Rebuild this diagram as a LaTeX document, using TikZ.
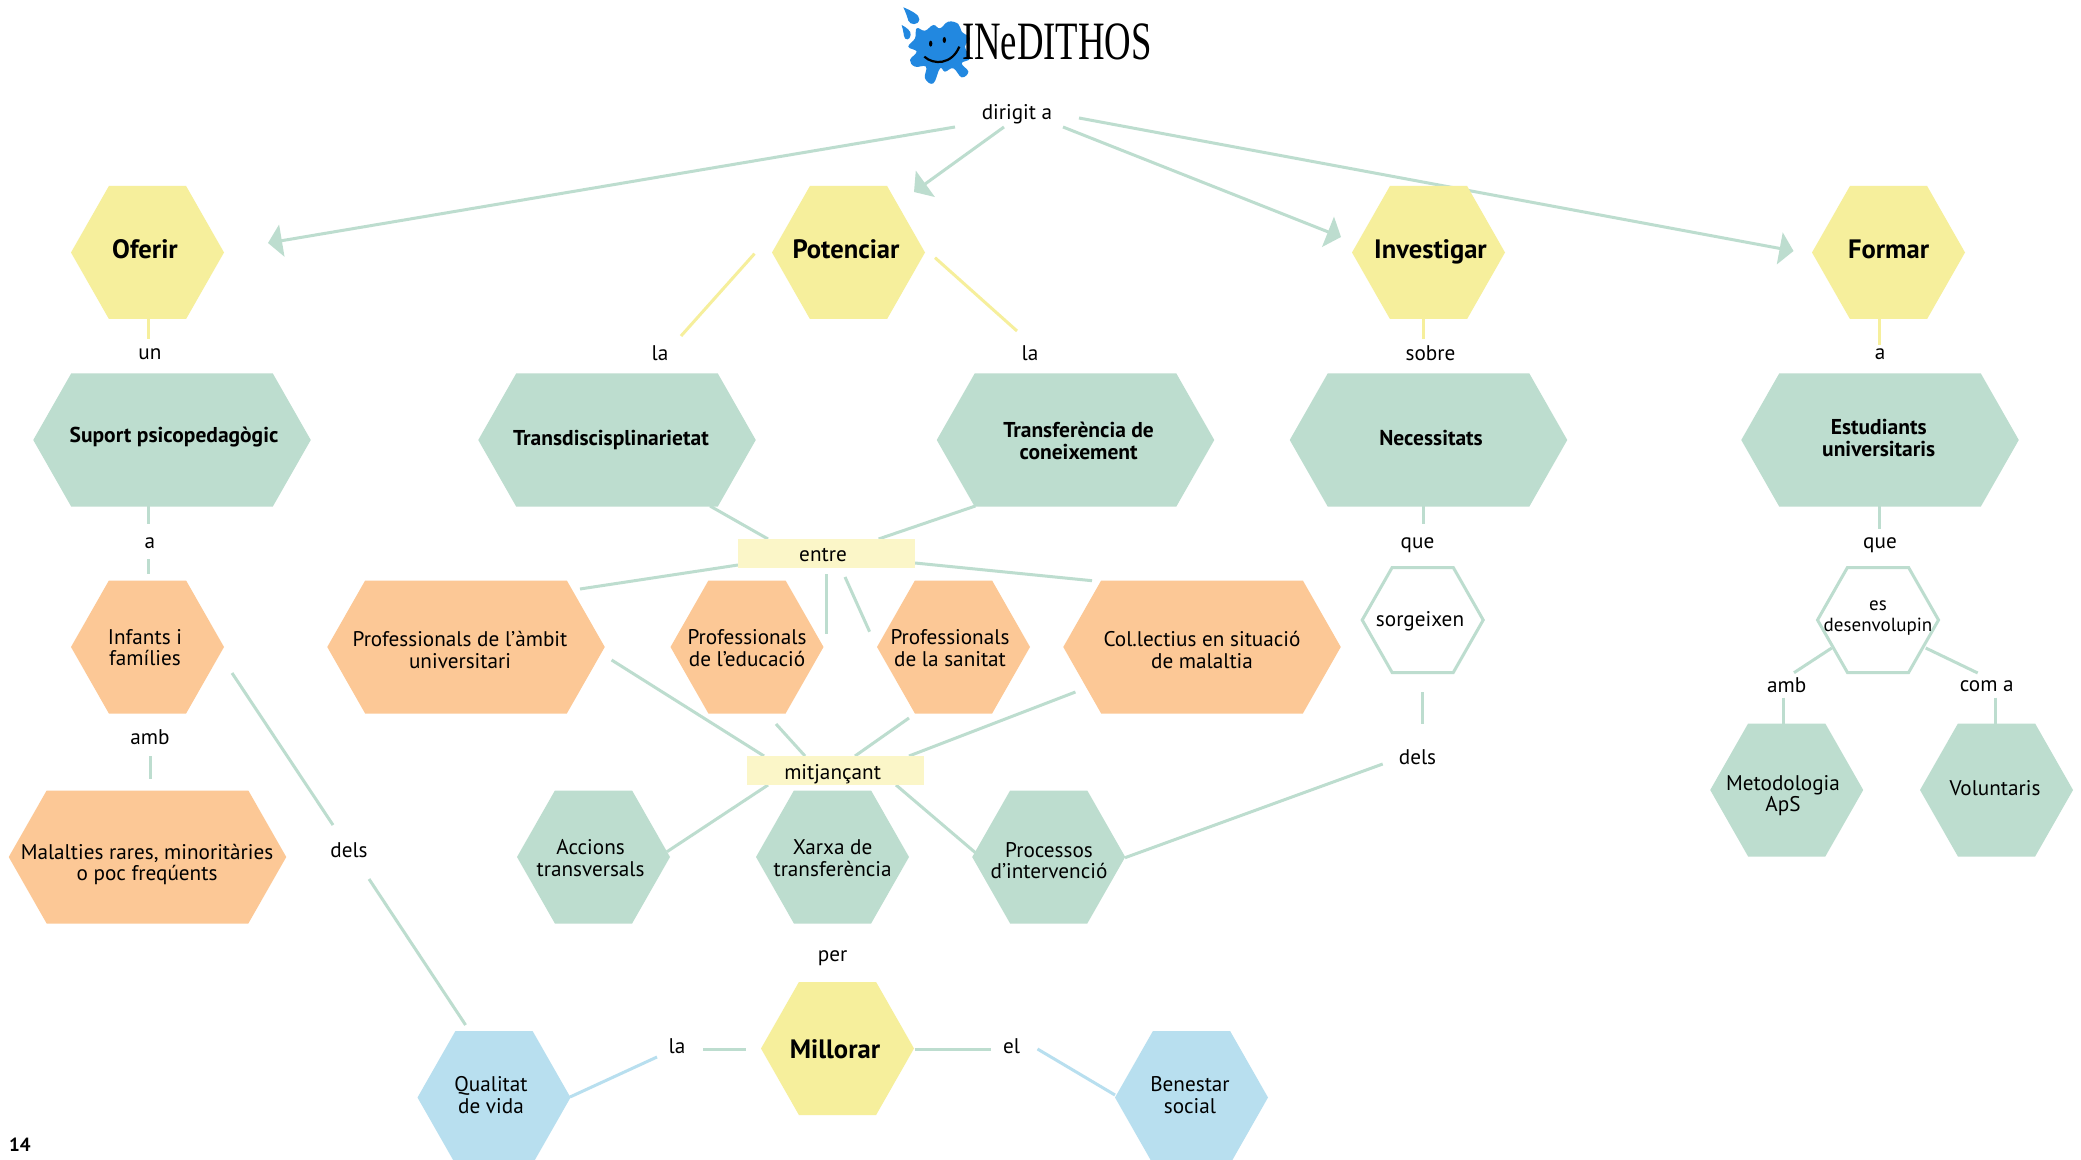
\documentclass[tikz,border=0pt]{standalone}
\usepackage{fontspec}
\setmainfont{PT Sans}
\newfontfamily\logofont{Liberation Serif}
\usetikzlibrary{arrows.meta}
\definecolor{cgreen}{HTML}{BDDDCF}
\definecolor{cyellow}{HTML}{F6EF9C}
\definecolor{corange}{HTML}{FCC896}
\definecolor{cblue}{HTML}{B8DFEF}
\definecolor{cpale}{HTML}{FBF6C8}
\definecolor{clogo}{HTML}{2288E0}
\pgfdeclarelayer{bg}
\pgfsetlayers{bg,main}
\makeatletter
\pgfdeclareshape{hexa}{
  \inheritsavedanchors[from=rectangle]
  \inheritanchorborder[from=rectangle]
  \inheritanchor[from=rectangle]{center}
  \inheritanchor[from=rectangle]{north}
  \inheritanchor[from=rectangle]{south}
  \inheritanchor[from=rectangle]{east}
  \inheritanchor[from=rectangle]{west}
  \backgroundpath{
    \southwest \edef\hexl{\the\pgf@x}\edef\hexb{\the\pgf@y}
    \northeast \edef\hexr{\the\pgf@x}\edef\hext{\the\pgf@y}
    \pgfmathsetmacro\hexin{0.285*(\hext-\hexb)}
    \pgfmathsetmacro\hexm{0.5*(\hext+\hexb)}
    \pgfpathmoveto{\pgfpoint{\hexl}{\hexm pt}}
    \pgfpathlineto{\pgfpoint{\hexl+\hexin pt}{\hext}}
    \pgfpathlineto{\pgfpoint{\hexr-\hexin pt}{\hext}}
    \pgfpathlineto{\pgfpoint{\hexr}{\hexm pt}}
    \pgfpathlineto{\pgfpoint{\hexr-\hexin pt}{\hexb}}
    \pgfpathlineto{\pgfpoint{\hexl+\hexin pt}{\hexb}}
    \pgfpathclose
  }
}
\makeatother
\tikzset{
  x=0.5pt,y=-0.5pt,
  hex/.style={shape=hexa,inner sep=0pt,outer sep=0pt,minimum height=66.5pt},
  narrow/.style={hex,minimum width=76.5pt},
  wide/.style={hex,minimum width=138.75pt},
  open/.style={hex,minimum width=60.5pt,minimum height=52.5pt,draw=cgreen,line width=1.5pt,fill=white},
  gfill/.style={fill=cgreen},
  yfill/.style={fill=cyellow},
  ofill/.style={fill=corange},
  bfill/.style={fill=cblue},
  tx/.style={inner sep=0pt,align=center,font=\fontsize{10.6}{10.75}\selectfont},
  sub/.style={tx,font=\fontsize{10.75}{10.75}\selectfont\bfseries},
  head/.style={tx,font=\fontsize{13.3}{15}\selectfont\bfseries},
  tiny/.style={tx,font=\fontsize{9.5}{10.5}\selectfont},
  band/.style={fill=cpale,inner sep=0pt,outer sep=0pt,minimum height=14.5pt,minimum width=88.5pt},
  gline/.style={draw=cgreen,line width=1.5pt},
  yline/.style={draw=cyellow,line width=1.5pt},
  bline/.style={draw=cblue,line width=1.5pt},
  garrow/.style={gline,-{Triangle[length=7pt,width=16pt]}},
}
\begin{document}
\begin{tikzpicture}
\useasboundingbox (0,0) rectangle (2081,1160);
% hexagons
\node[narrow,yfill] (oferir) at (147.5,252.5) {};
\node[narrow,yfill] (potenciar) at (848.5,252.5) {};
\node[narrow,yfill] (investigar) at (1428.5,252.5) {};
\node[narrow,yfill] (formar) at (1888.5,252.5) {};
\node[wide,gfill] (suport) at (172,440) {};
\node[wide,gfill] (transd) at (617,440) {};
\node[wide,gfill] (transf) at (1075.5,440) {};
\node[wide,gfill] (necess) at (1428.5,440) {};
\node[wide,gfill] (estud) at (1880,440) {};
\node[narrow,ofill] (infants) at (147.5,647) {};
\node[wide,ofill] (profuni) at (466,647) {};
\node[narrow,ofill] (profedu) at (747,647) {};
\node[narrow,ofill] (profsan) at (953.5,647) {};
\node[wide,ofill] (collect) at (1202,647) {};
\node[open] (sorgeix) at (1422.7,620) {};
\node[open] (desenv) at (1878,620) {};
\node[narrow,gfill] (metod) at (1786.7,790) {};
\node[narrow,gfill] (volunt) at (1996.5,790) {};
\node[wide,ofill] (malalt) at (147.5,857) {};
\node[narrow,gfill] (accions) at (593.5,857) {};
\node[narrow,gfill] (xarxa) at (832.5,857) {};
\node[narrow,gfill] (process) at (1048.7,857) {};
\node[narrow,yfill] (millorar) at (837.5,1048.5) {};
\node[narrow,bfill] (qualitat) at (494,1097.5) {};
\node[narrow,bfill] (benestar) at (1191.5,1097.5) {};
\node[band] (entre) at (826.5,553.5) {};
\node[band] (mitjan) at (835.5,770.5) {};
% hexagon texts
\node[head] (toferir) at (145,249) {Oferir};
\node[head] (tpotenciar) at (846,249) {Potenciar};
\node[head] (tinvestigar) at (1430.5,252) {Investigar};
\node[head] (tformar) at (1888.6,249) {Formar};
\node[head] (tmillorar) at (835,1049) {Millorar};
\node[sub] (tsuport) at (174,437.5) {Suport psicopedagògic};
\node[sub] (ttransd) at (611,440.5) {Transdiscisplinarietat};
\node[sub] (ttransf) at (1078.6,441) {Transferència de\\coneixement};
\node[sub] (tnecess) at (1431,438) {Necessitats};
\node[sub] (testud) at (1878.7,438) {Estudiants\\universitaris};
\node[tx] (tinfants) at (145,647.5) {Infants i\\famílies};
\node[tx] (tprofuni) at (460,650) {Professionals de l’àmbit\\universitari};
\node[tx] (tprofedu) at (747,648) {Professionals\\de l’educació};
\node[tx] (tprofsan) at (950,648) {Professionals\\de la sanitat};
\node[tx] (tcollect) at (1202,650) {Col.lectius en situació\\de malaltia};
\node[tx] (tmalalt) at (147,864.5) {Malalties rares, minoritàries\\o poc freqúents};
\node[tx] (taccions) at (590.6,858) {Accions\\transversals};
\node[tx] (txarxa) at (832.6,858) {Xarxa de\\transferència};
\node[tx] (tprocess) at (1049,860.5) {Processos\\d’intervenció};
\node[tx] (tqualitat) at (491,1095) {Qualitat\\de vida};
\node[tx] (tbenestar) at (1190,1095) {Benestar\\social};
\node[tx] (tsorgeix) at (1420,621) {sorgeixen};
\node[tiny] (tdesenv) at (1878,618) {es\\desenvolupin};
\node[tx] (tmetod) at (1783,795.5) {Metodologia\\ApS};
\node[tx] (tvolunt) at (1995,788.5) {Voluntaris};
\node[tx] (tentre) at (823,555) {entre};
\node[tx] (tmitjan) at (832.6,774.5) {mitjançant};
% labels
\node[tx] (dirigit) at (1017,114.5) {dirigit a};
\node[tx] (lun) at (150,354) {un};
\node[tx] (lla1) at (660,353.5) {la};
\node[tx] (lla2) at (1030,353.5) {la};
\node[tx] (lsobre) at (1430.5,353.5) {sobre};
\node[tx] (la1) at (1880,354) {a};
\node[tx] (la2) at (150,543.5) {a};
\node[tx] (lque1) at (1417.5,545) {que};
\node[tx] (lque2) at (1880,545) {que};
\node[tx] (lamb1) at (150,737.5) {amb};
\node[tx] (ldels1) at (349,850) {dels};
\node[tx] (ldels2) at (1417.5,757.5) {dels};
\node[tx] (lamb2) at (1786.7,685.2) {amb};
\node[tx] (lcoma) at (1986.7,686.2) {com a};
\node[tx] (lper) at (832.6,958.2) {per};
\node[tx] (lla3) at (677,1046) {la};
\node[tx] (lel) at (1011.6,1046) {el};
\node[tx,font=\fontsize{9.5}{11}\selectfont\bfseries] (pageno) at (20,1145) {14};
% connector end points
\foreach \n/\px/\py in {
 dirA/955/127, dirB/1004/127, dirC/1063/127, dirD/1079/118,
 tipO/268/243, tipP/914/192, tipI/1341/237, tipF/1793.5/251,
 ofS/148/319, unN/148/339, poL/754.5/253.7, laA/681/336, poR/935/257.7, laB/1017/331,
 inS/1423/319, soN/1423/339, foS/1879/319, aN/1879/345,
 suS/148/506, aaN/148/524, aaS/148/559, infN/148/574, ambS/150/756, malN/150/779,
 infE/232/673, deA/333/825, deB/369/879, quN/465.6/1025,
 quE/570/1097, laC/657/1057, laD/703/1049, miW/746.4/1049, miE/914.5/1049, elW/991/1049,
 elE/1037.5/1049, beW/1115/1095,
 trS/710/506, enA/768/539, tfS/975.4/506, enB/878.6/539,
 enC/738/565, uniN/580/589, enD/826/574, eduE/826/634, enE/845/577, sanW/869.6/631.7,
 enF/915/563, colN/1092/580.7,
 uniE/611.6/660, miA/764/756, eduS/776/724, miB/805/756, sanS/909/718, miC/855/756,
 colW/1075.4/692, miD/909/756,
 miF/768/785, acE/667/851.7, miG/896/785, prW/975.4/852.7,
 prE/1125/857.7, deC/1382.7/764,
 neS/1423/506, quA/1423/524, sgS/1422.7/692, deD/1422.7/723.7,
 esS/1879/506, quB/1879/529,
 dsL/1831.7/648, amA/1794/672.7, dsR/1925.7/648, coA/1977.7/673,
 amB/1783/697.7, meN/1783/724, coB/1995/697.7, voN/1995/724}
 {\coordinate (\n) at (\px,\py);}
% connectors, under the hexagons
\begin{pgfonlayer}{bg}
\fill[white] (0,0) rectangle (2081,1160);
\draw[garrow] (dirA) -- (tipO);
\draw[garrow] (dirB) -- (tipP);
\draw[garrow] (dirC) -- (tipI);
\draw[garrow] (dirD) -- (tipF);
\draw[yline] (ofS) -- (unN);
\draw[yline] (poL) -- (laA);
\draw[yline] (poR) -- (laB);
\draw[yline] (inS) -- (soN);
\draw[yline] (foS) -- (aN);
\draw[gline] (suS) -- (aaN);
\draw[gline] (aaS) -- (infN);
\draw[gline] (ambS) -- (malN);
\draw[gline] (infE) -- (deA);
\draw[gline] (deB) -- (quN);
\draw[bline] (quE) -- (laC);
\draw[gline] (laD) -- (miW);
\draw[gline] (miE) -- (elW);
\draw[bline] (elE) -- (beW);
\draw[gline] (trS) -- (enA);
\draw[gline] (tfS) -- (enB);
\draw[gline] (enC) -- (uniN);
\draw[gline] (enD) -- (eduE);
\draw[gline] (enE) -- (sanW);
\draw[gline] (enF) -- (colN);
\draw[gline] (uniE) -- (miA);
\draw[gline] (eduS) -- (miB);
\draw[gline] (sanS) -- (miC);
\draw[gline] (colW) -- (miD);
\draw[gline] (miF) -- (acE);
\draw[gline] (miG) -- (prW);
\draw[gline] (prE) -- (deC);
\draw[gline] (neS) -- (quA);
\draw[gline] (sgS) -- (deD);
\draw[gline] (esS) -- (quB);
\draw[gline] (dsL) -- (amA);
\draw[gline] (dsR) -- (coA);
\draw[gline] (amB) -- (meN);
\draw[gline] (coB) -- (voN);
\end{pgfonlayer}
% logo
\begin{scope}[shift={(890,0)},x=0.16667pt,y=-0.16667pt]
\fill[clogo] plot[smooth cycle,tension=0.7] coordinates {
 (80,85) (105,92) (130,75) (150,85) (175,65) (205,72) (215,95) (240,115) (225,140) (240,175)
 (215,190) (235,215) (215,232) (190,205) (165,215) (150,205) (130,250) (105,235) (108,200)
 (75,200) (60,180) (80,155) (55,140) (75,115)};
\fill[clogo] (40,22) .. controls (60,30) and (90,45) .. (88,58) .. controls (85,78) and (60,75) .. (55,62) .. controls (52,50) and (46,35) .. (40,22) -- cycle;
\fill[clogo] (35,75) .. controls (48,82) and (64,92) .. (62,105) .. controls (60,122) and (44,122) .. (42,108) .. controls (40,95) and (38,85) .. (35,75) -- cycle;
\fill[black] (122,131) ellipse (5 and 9);
\fill[black] (163,120) ellipse (5 and 9);
\draw[black,line width=1.1pt] (103,170) .. controls (130,195) and (185,195) .. (208,140);
\end{scope}
\node[inner sep=0pt,xscale=0.68,font=\logofont\fontsize{27}{30}\selectfont] (logo) at (1057,42) {INeDITHOS};
\end{tikzpicture}
\end{document}
